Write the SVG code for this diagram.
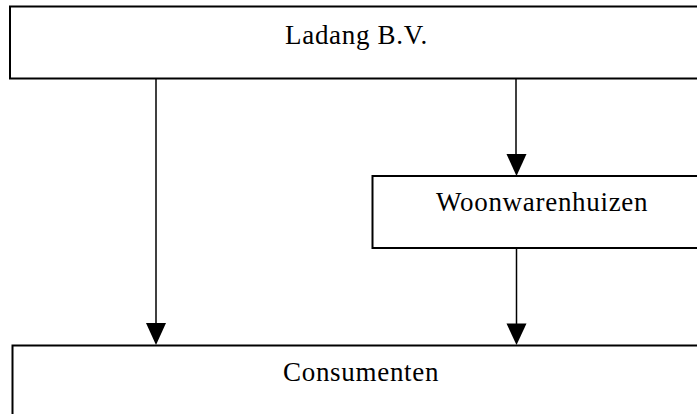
<svg xmlns="http://www.w3.org/2000/svg" width="697" height="414" viewBox="0 0 697 414">
<style>
.box{fill:#fff;stroke:#000;stroke-width:2}
.lbl{font-family:"Liberation Serif","Times New Roman",serif;font-size:27px;letter-spacing:0.7px;fill:#000}
.con{stroke:#000;stroke-width:1.5;fill:none}
</style>
<rect width="697" height="414" fill="#fff"/>
<g id="node-ladang">
<rect class="box" x="10" y="6.5" width="700" height="72"/>
<text class="lbl" x="285" y="44">Ladang B.V.</text>
</g>
<g id="node-woonwarenhuizen">
<rect class="box" x="372.5" y="176" width="340" height="72"/>
<text class="lbl" x="436" y="211">Woonwarenhuizen</text>
</g>
<g id="node-consumenten">
<rect class="box" x="12.5" y="345.5" width="700" height="80"/>
<text class="lbl" x="283" y="381">Consumenten</text>
</g>
<g id="connectors">
<line class="con" x1="156" y1="79" x2="156" y2="323"/>
<path d="M146,323 L166,323 L156,345 Z" fill="#000"/>
<line class="con" x1="516" y1="79" x2="516" y2="154"/>
<path d="M506.5,154 L526.5,154 L516.5,176 Z" fill="#000"/>
<line class="con" x1="516.5" y1="248" x2="516.5" y2="324"/>
<path d="M506.5,323.5 L526.5,323.5 L516.5,345 Z" fill="#000"/>
</g>
</svg>
